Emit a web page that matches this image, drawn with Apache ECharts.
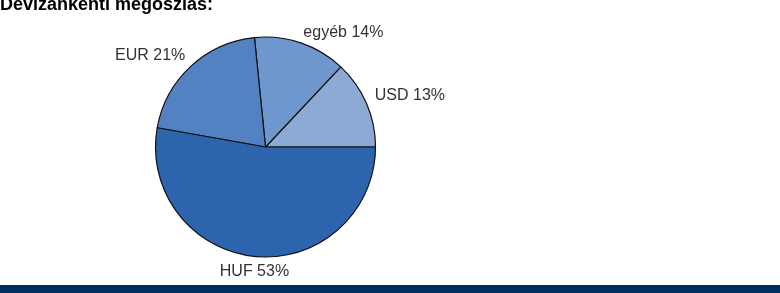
<!DOCTYPE html>
<html>
<head>
<meta charset="utf-8">
<script src="https://cdn.jsdelivr.net/npm/echarts@6/dist/echarts.min.js"></script>
<style>
html,body{margin:0;padding:0;background:#fff;}
#c{width:780px;height:293px;}
</style>
</head>
<body>
<div id="c"></div>
<script>
const categories = ['USD', 'egyéb', 'EUR', 'HUF'];
const values = [13.0, 13.6, 20.6, 52.8];
const colors = ['#8CAAD3', '#6E97CD', '#5282C1', '#2C64AD'];
const titleText = 'Devizánkénti megoszlás:';

const chart = echarts.init(document.getElementById('c'));
chart.setOption({
  animation: false,
  title: {
    text: titleText,
    left: 0,
    top: -4,
    padding: 0,
    textStyle: { fontFamily: 'Liberation Sans, Arial, sans-serif', fontSize: 18, fontWeight: 'bold', color: '#000' }
  },
  graphic: [{
    type: 'rect',
    shape: { x: 0, y: 285, width: 780, height: 8 },
    style: { fill: '#002F5F' }
  }],
  series: [{
    type: 'pie',
    center: [265.5, 147],
    radius: 110,
    startAngle: 0,
    clockwise: false,
    data: categories.map((c, i) => ({ name: c, value: values[i], itemStyle: { color: colors[i] } })),
    itemStyle: { borderColor: '#111', borderWidth: 1.2 },
    label: {
      show: true,
      position: 'outside',
      formatter: p => p.name + ' ' + Math.round(p.value) + '%',
      fontFamily: 'Liberation Sans, Arial, sans-serif',
      fontSize: 16,
      color: '#333'
    },
    labelLine: { show: false, length: 8, length2: 0 },
    labelLayout: function (p) {
      const nudge = [[-4, -4.5], [-5, -3], [5, -5], [39, 7]];
      return { dx: nudge[p.dataIndex][0], dy: nudge[p.dataIndex][1] };
    },
    emphasis: { disabled: true }
  }]
});
</script>
</body>
</html>
